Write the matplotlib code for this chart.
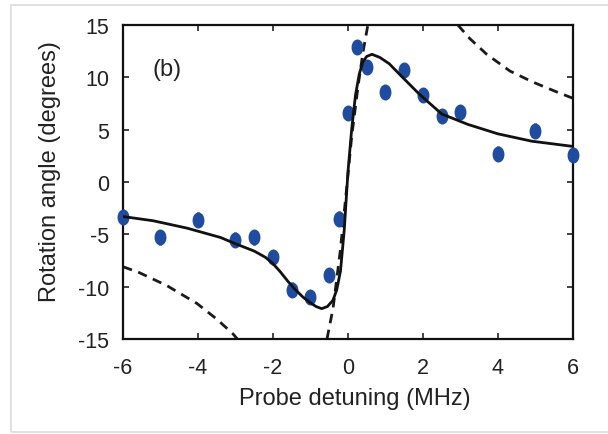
"""
Faraday rotation vs probe detuning, panel (b).
Points, fit (solid) and bare-resonance curve (dashed) read off the figure.
"""
import numpy as np
import matplotlib
matplotlib.use('Agg')
import matplotlib.pyplot as plt
from matplotlib.path import Path
from matplotlib.patches import Rectangle

plt.rcParams['font.family'] = ['Liberation Sans', 'DejaVu Sans']
plt.rcParams['axes.unicode_minus'] = False

# ---- measured points ----
data_x = [-6, -5, -4, -3, -2.5, -2, -1.5, -1, -0.5, -0.25, 0, 0.25, 0.5,
          1, 1.5, 2, 2.5, 3, 4, 5, 6]
data_y = [-3.3, -5.3, -3.6, -5.5, -5.3, -7.2, -10.3, -11.0, -8.9, -3.5, 6.6,
          12.9, 11.0, 8.6, 10.7, 8.3, 6.3, 6.7, 2.7, 4.9, 2.6]
data_err = [0.7] * len(data_x)

# ---- fit curve (solid) ----
fit_x = [-6, -5.2, -4.3, -3.4, -3.0, -2.5, -2.2, -2.0, -1.8, -1.6, -1.4,
         -1.2, -1.0, -0.85, -0.7, -0.55, -0.4, -0.3, -0.2, -0.1, 0.0, 0.1,
         0.2, 0.3, 0.4, 0.5, 0.64, 0.85, 1.1, 1.4, 1.9, 2.5, 3.2, 4.0, 4.9, 6.0]
fit_y = [-3.3, -3.7, -4.4, -5.3, -5.9, -6.6, -7.2, -7.8, -8.6, -9.5, -10.3,
         -11.0, -11.55, -11.9, -12.1, -11.9, -11.3, -10.3, -8.5, -4.6, 1.0, 5.1,
         8.3, 10.3, 11.5, 12.0, 12.2, 11.9, 11.3, 10.2, 8.4, 6.5, 5.5, 4.6, 3.9, 3.4]

# ---- dashed curve, three branches ----
dash_left_x = [-6, -5.6, -4.83, -4.03, -3.5, -3.07, -2.95]
dash_left_y = [-8.1, -8.6, -9.9, -11.6, -13.1, -14.5, -15]
dash_mid_x = [-0.56, -0.4, -0.21, -0.03, 0.1, 0.27, 0.4, 0.53]
dash_mid_y = [-15, -12.1, -6.7, -0.4, 4.4, 9.2, 12.4, 15]
dash_right_x = [2.93, 3.25, 3.7, 4.32, 4.93, 5.57, 6.0]
dash_right_y = [15, 13.7, 12.2, 10.6, 9.55, 8.6, 8.0]

# tall ellipse marker like the original dots
circ = Path.unit_circle()
ellipse = Path(circ.vertices * np.array([0.72, 1.0]), circ.codes)

fig = plt.figure(figsize=(6.08, 4.35), dpi=100)
ax = fig.add_axes([0.2023, 0.2184, 0.7401, 0.7218])

# faint frame around the picture
fig.patches.append(Rectangle((0.018, 0.005), 1.0, 0.981, transform=fig.transFigure,
                             fill=False, edgecolor='#dcdcdc', linewidth=1.2))

dash = (0, (3.4, 2.4))
for xs, ys in [(dash_left_x, dash_left_y), (dash_mid_x, dash_mid_y),
               (dash_right_x, dash_right_y)]:
    ax.plot(xs, ys, color='#1a1a1a', linewidth=2.0, linestyle=dash, zorder=2)

blue = '#1f4c9e'
ax.errorbar(data_x, data_y, yerr=data_err, fmt='none', ecolor=blue,
            elinewidth=2.2, capsize=0, zorder=3)
ax.plot(data_x, data_y, linestyle='none', marker=ellipse, markersize=10.5,
        color=blue, markeredgecolor=blue, zorder=4, clip_on=False)

ax.plot(fit_x, fit_y, color='#111111', linewidth=2.0, zorder=5)

ax.text(-4.83, 10.8, '(b)', fontsize=17, ha='center', va='center', color='#222222')

ax.set_xlim(-6, 6)
ax.set_ylim(-15, 15)
ax.set_xticks(np.arange(-6, 7, 2))
ax.set_yticks(np.arange(-15, 16, 5))
ax.tick_params(direction='in', length=4, width=1.2, top=True, right=True,
               labelsize=15.5, colors='#222222')
ax.tick_params(axis='x', pad=13)
ax.tick_params(axis='y', pad=10)
for s in ax.spines.values():
    s.set_linewidth(1.6)
    s.set_color('#111111')

ax.set_xlabel('Probe detuning (MHz)', fontsize=17, color='#222222')
ax.set_ylabel('Rotation angle (degrees)', fontsize=17, color='#222222')
ax.xaxis.set_label_coords(0.516, -0.153)
ax.yaxis.set_label_coords(-0.138, 0.535)

plt.savefig('out.png', dpi=100)
plt.close()
